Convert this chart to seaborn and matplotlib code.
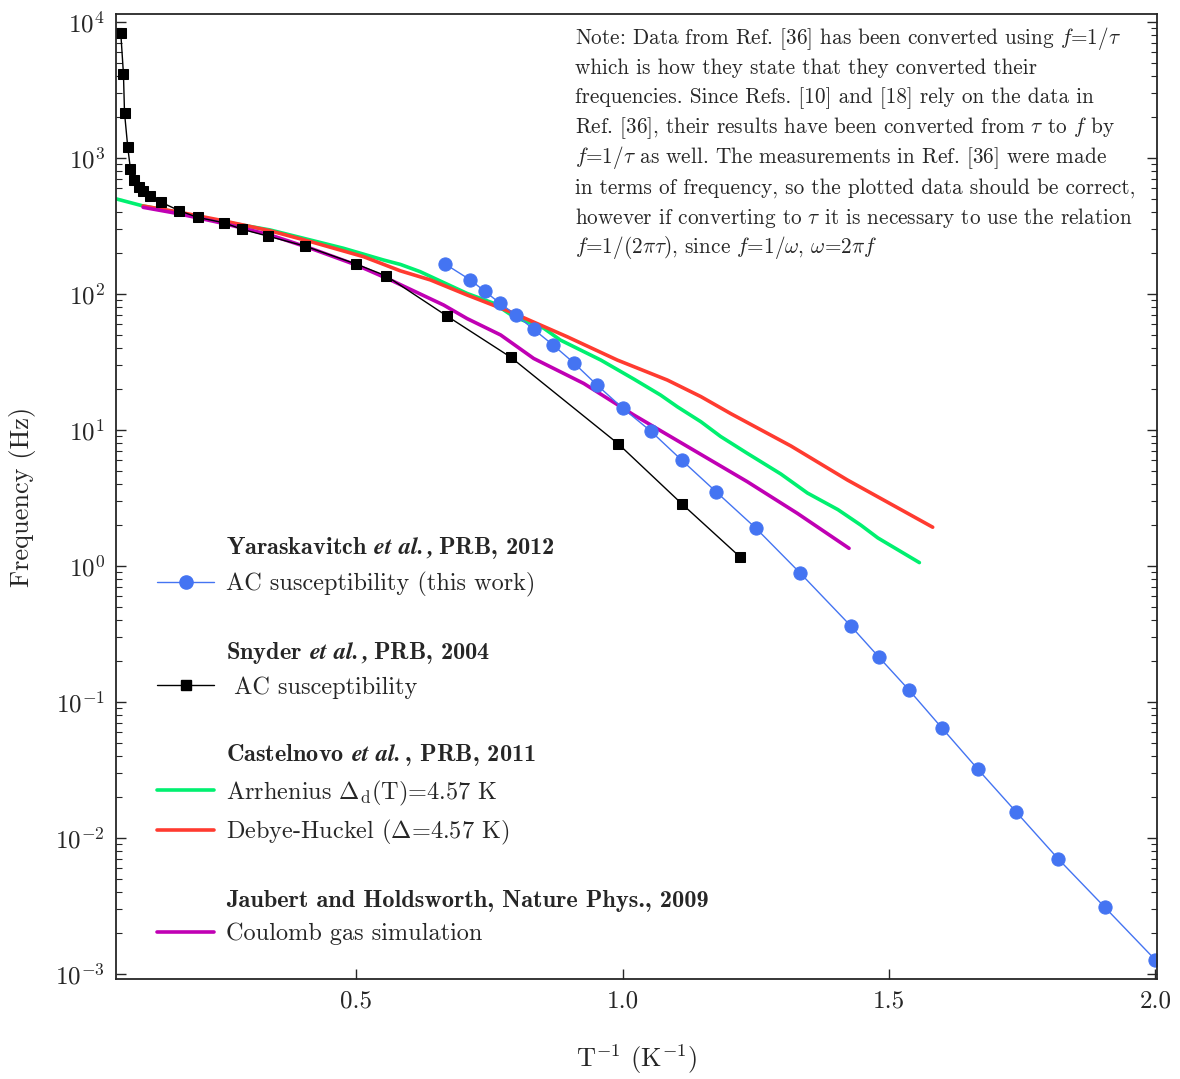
import numpy as np
import matplotlib
matplotlib.use("Agg")
import matplotlib.pyplot as plt
import seaborn as sns
from matplotlib.lines import Line2D
from matplotlib.ticker import LogLocator, FixedLocator, NullFormatter

# ---------- DATA -----------------------------------------------------------------
# Yaraskavitch et al. 2012, AC susceptibility (this work)
yar_x = [0.667, 0.714, 0.741, 0.769, 0.800, 0.833, 0.870, 0.909, 0.952, 1.000,
         1.053, 1.111, 1.176, 1.250, 1.333, 1.429, 1.481, 1.538, 1.600, 1.667,
         1.739, 1.818, 1.905, 2.000]
yar_f = [166, 127, 105, 86, 70, 55, 42, 31, 21.4, 14.5,
         9.8, 6.0, 3.5, 1.9, 0.89, 0.36, 0.214, 0.122, 0.064, 0.032,
         0.0155, 0.0070, 0.0031, 0.00127]

# Snyder et al. 2004, AC susceptibility
sny_x = [0.058, 0.063, 0.065, 0.071, 0.076, 0.082, 0.092, 0.099, 0.112, 0.134,
         0.168, 0.202, 0.252, 0.286, 0.335, 0.404, 0.500, 0.556, 0.670, 0.790,
         0.992, 1.111, 1.220]
sny_f = [8260, 4150, 2150, 1210, 834, 686, 609, 569, 528, 472,
         410, 366, 334, 299, 266, 225, 166, 136, 69, 34.3,
         7.9, 2.87, 1.17]

# Castelnovo et al. 2011, Arrhenius
arr_x = [0.050, 0.100, 0.163, 0.250, 0.338, 0.389, 0.476, 0.551, 0.583, 0.620,
         0.708, 0.758, 0.796, 0.852, 0.883, 0.959, 1.021, 1.071, 1.103, 1.147,
         1.184, 1.234, 1.297, 1.347, 1.404, 1.447, 1.479, 1.557]
arr_f = [500, 444, 399, 340, 296, 264, 217, 178, 165, 146,
         101, 85.5, 68, 56, 45.9, 32.7, 23.7, 18.1, 14.8, 11.5,
         8.96, 6.74, 4.75, 3.44, 2.60, 2.0, 1.61, 1.06]

# Castelnovo et al. 2011, Debye-Huckel
dh_x = [0.100, 0.163, 0.250, 0.338, 0.414, 0.514, 0.583, 0.639, 0.708, 0.789,
        0.896, 0.990, 1.084, 1.147, 1.203, 1.316, 1.422, 1.582]
dh_f = [444, 403, 346, 292, 243, 188, 148, 127, 98.4, 74,
        48.5, 32.7, 23.3, 17.6, 13.2, 7.63, 4.29, 1.93]

# Jaubert and Holdsworth 2009, Coulomb gas simulation
cg_x = [0.100, 0.163, 0.250, 0.338, 0.414, 0.501, 0.564, 0.664, 0.708, 0.771,
        0.833, 0.927, 1.021, 1.109, 1.234, 1.328, 1.425]
cg_f = [434, 392, 331, 272, 217, 163, 127, 83, 66, 50,
        33.6, 22.0, 12.9, 8.09, 4.17, 2.44, 1.35]

x_ticks = [0.5, 1.0, 1.5, 2.0]
x_ticklabels = ["0.5", "1.0", "1.5", "2.0"]
y_ticks = [1e-3, 1e-2, 1e-1, 1e0, 1e1, 1e2, 1e3, 1e4]

note_lines = [
    r"Note: Data from Ref. [36] has been converted using $f$=1/$\tau$",
    "which is how they state that they converted their",
    "frequencies. Since Refs. [10] and [18] rely on the data in",
    r"Ref. [36], their results have been converted from $\tau$ to $f$ by",
    r"$f$=1/$\tau$ as well. The measurements in Ref. [36] were made",
    "in terms of frequency, so the plotted data should be correct,",
    r"however if converting to $\tau$ it is necessary to use the relation",
    r"$f$=1/(2$\pi\tau$), since $f$=1/$\omega$, $\omega$=2$\pi f$",
]

# ---------- STYLE -----------------------------------------------------------------
sns.set_style("ticks")
plt.rcParams["font.family"] = ["cmr10", "DejaVu Serif"]
plt.rcParams["mathtext.fontset"] = "cm"
plt.rcParams["axes.formatter.use_mathtext"] = True
plt.rcParams["axes.unicode_minus"] = False

BLUE = "#4474f2"
GREEN = "#00f070"
RED = "#ff3b30"
MAGENTA = "#c000b4"

fig = plt.figure(figsize=(11.8, 10.79), dpi=100)
ax = fig.add_axes([0.0983, 0.0927, 0.8822, 0.8943])

sns.lineplot(x=arr_x, y=arr_f, ax=ax, color=GREEN, lw=2.6, sort=False, estimator=None)
sns.lineplot(x=dh_x, y=dh_f, ax=ax, color=RED, lw=2.6, sort=False, estimator=None)
sns.lineplot(x=cg_x, y=cg_f, ax=ax, color=MAGENTA, lw=2.6, sort=False, estimator=None)
sns.lineplot(x=sny_x, y=sny_f, ax=ax, color="black", lw=1.0, marker="s", ms=7,
             mec="black", sort=False, estimator=None)
sns.lineplot(x=yar_x, y=yar_f, ax=ax, color=BLUE, lw=1.0, marker="o", ms=9.5,
             mec=BLUE, sort=False, estimator=None)

ax.set_yscale("log")
ax.set_xlim(0.049, 2.003)
ax.set_ylim(9.2e-4, 1.145e4)

ax.xaxis.set_major_locator(FixedLocator(x_ticks))
ax.set_xticklabels(x_ticklabels)
ax.yaxis.set_major_locator(FixedLocator(y_ticks))
ax.yaxis.set_minor_locator(LogLocator(base=10, subs=np.arange(2, 10), numticks=20))
ax.yaxis.set_minor_formatter(NullFormatter())
ax.tick_params(axis="both", which="major", direction="in", length=7, width=1,
               labelsize=18, pad=8)
ax.tick_params(axis="y", which="both", right=True)
ax.tick_params(axis="y", which="minor", direction="in", length=4, width=0.8)
for s in ax.spines.values():
    s.set_linewidth(1.3)
    s.set_visible(True)

ax.set_xlabel(r"T$^{-1}$ (K$^{-1}$)", fontsize=19, labelpad=22)
ax.set_ylabel("Frequency (Hz)", fontsize=19, labelpad=14)

# note, one line at a time so the line pitch stays even
for i, line in enumerate(note_lines):
    ax.text(0.441, 0.975 - i * 0.031, line, transform=ax.transAxes,
            fontsize=15.3, va="center", ha="left")

# ---------- LEGEND ----------------------------------------------------------------
blank = Line2D([], [], linestyle="none")
handles = [blank,
           Line2D([], [], color=BLUE, lw=1.0, marker="o", ms=9.5),
           blank, blank,
           Line2D([], [], color="black", lw=1.0, marker="s", ms=7),
           blank, blank,
           Line2D([], [], color=GREEN, lw=2.6),
           Line2D([], [], color=RED, lw=2.6),
           blank, blank,
           Line2D([], [], color=MAGENTA, lw=2.6)]
labels = [r"Yaraskavitch $\mathbfit{et\ al.,}$PRB, 2012",
          "AC susceptibility (this work)",
          " ",
          r"Snyder $\mathbfit{et\ al.,}$PRB, 2004",
          " AC susceptibility",
          " ",
          r"Castelnovo $\mathbfit{et\ al.}$, PRB, 2011",
          r"Arrhenius $\Delta_{\rm d}$(T)=4.57 K",
          r"Debye-Huckel ($\Delta$=4.57 K)",
          " ",
          "Jaubert and Holdsworth, Nature Phys., 2009",
          "Coulomb gas simulation"]
header_rows = [0, 3, 6, 10]
leg = ax.legend(handles, labels, loc="lower left", bbox_to_anchor=(0.03, 0.025),
                frameon=False, fontsize=17.5, handlelength=2.35, handletextpad=0.5,
                labelspacing=0.43, borderaxespad=0)
for i, t in enumerate(leg.get_texts()):
    if i in header_rows:
        t.set_fontfamily(["cmb10", "DejaVu Serif"])

fig.savefig("out.png", dpi=100)
